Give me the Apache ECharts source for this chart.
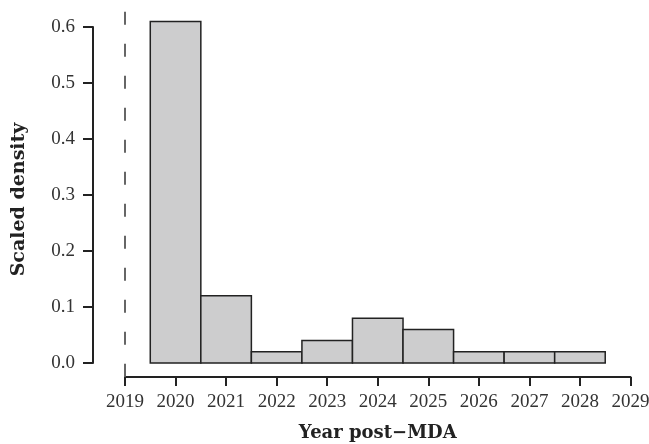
<!DOCTYPE html>
<html>
<head>
<meta charset="utf-8">
<script src="https://cdn.jsdelivr.net/npm/echarts@6/dist/echarts.min.js"></script>
<style>
html,body{margin:0;padding:0;background:#fff;}
#c{width:649px;height:444px;}
</style>
</head>
<body>
<div id="c"></div>
<script>
// Data
const years = [2020, 2021, 2022, 2023, 2024, 2025, 2026, 2027, 2028];
const density = [0.61, 0.12, 0.02, 0.04, 0.08, 0.06, 0.02, 0.02, 0.02];
const mdaYear = 2019;
const xTicks = [2019, 2029];      // x axis range (tick every year)
const yTicks = [0, 0.6];          // y axis range (tick every 0.1)
const plotYRange = [-0.0244, 0.6344]; // vertical extent of the dashed reference line

const barData = years.map((y, i) => [y - 0.5, y + 0.5, density[i]]);

const chart = echarts.init(document.getElementById('c'), null, {renderer: 'canvas'});
const tickFont = {fontFamily: 'Liberation Serif', fontSize: 19, color: '#333'};
const axisLineStyle = {color: '#222', width: 2};

chart.setOption({
  animation: false,
  backgroundColor: '#fff',
  grid: {left: 125, right: 18.5, top: 27, bottom: 81, containLabel: false, outerBoundsMode: 'none'},
  xAxis: {
    type: 'value', min: xTicks[0], max: xTicks[1], interval: 1, offset: 14,
    axisLine: {show: true, onZero: false, lineStyle: axisLineStyle},
    axisTick: {show: true, length: 9, lineStyle: axisLineStyle},
    axisLabel: Object.assign({margin: 16, formatter: v => String(v)}, tickFont),
    splitLine: {show: false},
    name: 'Year post\u2212MDA', nameLocation: 'middle', nameGap: 47,
    nameTextStyle: {fontFamily: 'DejaVu Serif', fontWeight: 'bold', fontSize: 18, color: '#222'}
  },
  yAxis: {
    type: 'value', min: yTicks[0], max: yTicks[1], interval: 0.1, offset: 32,
    axisLine: {show: true, onZero: false, lineStyle: axisLineStyle},
    axisTick: {show: true, length: 10, lineStyle: axisLineStyle},
    axisLabel: Object.assign({margin: 18, formatter: v => v.toFixed(1)}, tickFont),
    splitLine: {show: false},
    name: 'Scaled density', nameLocation: 'middle', nameGap: 64,
    nameTextStyle: {fontFamily: 'DejaVu Serif', fontWeight: 'bold', fontSize: 19, color: '#222', padding: [0, 9, 0, 0]}
  },
  series: [
    {
      type: 'custom', clip: false,
      data: [[mdaYear, plotYRange[0], plotYRange[1]]],
      renderItem: (params, api) => {
        const p0 = api.coord([api.value(0), api.value(1)]);
        const p1 = api.coord([api.value(0), api.value(2)]);
        return {
          type: 'line',
          shape: {x1: p0[0], y1: p0[1], x2: p1[0], y2: p1[1]},
          style: {stroke: '#666', lineWidth: 2, lineDash: [13, 19]}
        };
      }
    },
    {
      type: 'custom', clip: false,
      data: barData,
      renderItem: (params, api) => {
        const a = api.coord([api.value(0), api.value(2)]);
        const b = api.coord([api.value(1), 0]);
        return {
          type: 'rect',
          shape: {x: a[0], y: a[1], width: b[0] - a[0], height: b[1] - a[1]},
          style: {fill: '#cdcdce', stroke: '#222', lineWidth: 1.5}
        };
      }
    }
  ]
});
</script>
</body>
</html>
